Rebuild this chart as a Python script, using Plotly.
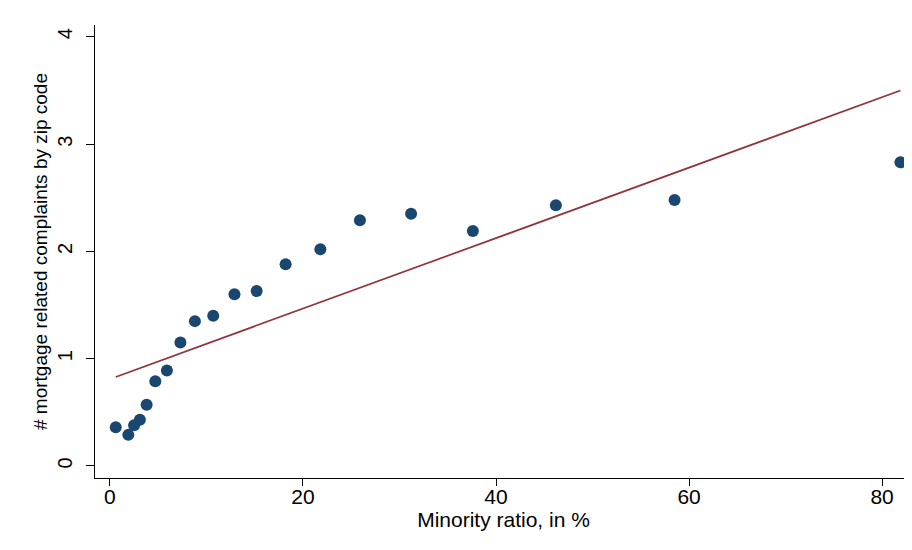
import plotly.graph_objects as go

# Binned scatter values (minority ratio in %, mean complaints)
minority_ratio = [0.6, 1.9, 2.5, 3.1, 3.8, 4.7, 5.9, 7.3, 8.8, 10.7,
                  12.9, 15.2, 18.2, 21.8, 25.9, 31.2, 37.6, 46.2, 58.5, 81.9]
complaints = [0.36, 0.29, 0.38, 0.43, 0.57, 0.79, 0.89, 1.15, 1.35, 1.40,
              1.60, 1.63, 1.88, 2.02, 2.29, 2.35, 2.19, 2.43, 2.48, 2.83]

# Linear fit line endpoints
fit_x = [0.6, 81.9]
fit_y = [0.83, 3.50]

x_ticks = [0, 20, 40, 60, 80]
y_ticks = [0, 1, 2, 3, 4]

FONT = "Liberation Sans, Arial, sans-serif"

fig = go.Figure()
fig.add_trace(go.Scatter(
    x=minority_ratio, y=complaints, mode="markers",
    marker=dict(color="#1a476f", size=12, line=dict(width=0)),
    cliponaxis=False, showlegend=False, hoverinfo="x+y"))
fig.add_trace(go.Scatter(
    x=fit_x, y=fit_y, mode="lines",
    line=dict(color="#90353b", width=1.7),
    showlegend=False))

# page body has an 8px default margin; figure sized to compensate
fig.update_layout(
    width=904, height=542,
    margin=dict(l=87, r=0, t=17, b=72),
    paper_bgcolor="white", plot_bgcolor="white",
    font=dict(family=FONT, size=19, color="black"),
    xaxis=dict(
        range=[-1.55, 83.1], tickvals=x_ticks,
        ticktext=[str(v) for v in x_ticks],
        showgrid=False, zeroline=False,
        showline=True, linecolor="black", linewidth=1.2,
        ticks="outside", ticklen=7, tickwidth=1, tickcolor="black",
        tickfont=dict(size=21), ticklabelstandoff=-7,
        title=dict(text="Minority ratio, in %", font=dict(size=21), standoff=0),
        automargin=False,
    ),
    yaxis=dict(
        range=[-0.112, 4.11], tickvals=y_ticks,
        ticktext=[str(v) for v in y_ticks],
        showgrid=False, zeroline=False,
        showline=True, linecolor="black", linewidth=1.2,
        ticks="outside", ticklen=8, tickwidth=1, tickcolor="black",
        tickangle=-90, tickfont=dict(size=20), ticklabelstandoff=6,
        title=dict(text="# mortgage related complaints by zip code",
                   font=dict(size=19), standoff=1),
        automargin=False,
    ),
    shapes=[dict(type="line", xref="paper", yref="paper",
                 x0=-0.1126, x1=-0.1126, y0=-0.16, y1=1.055,
                 line=dict(color="#e6eff1", width=1))],
)

fig.write_html("out.html")
